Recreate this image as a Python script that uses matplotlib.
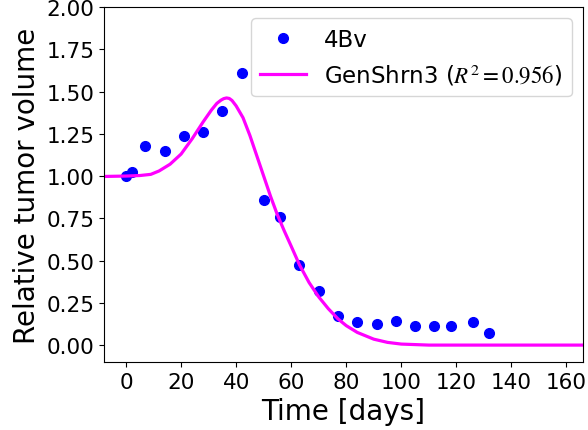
import numpy as np
import matplotlib
matplotlib.use("Agg")
import matplotlib.pyplot as plt

plt.rcParams['mathtext.fontset'] = 'stix'

# measured data (4Bv)
days = [0, 2, 7, 14, 21, 28, 35, 42, 50, 56, 63, 70, 77, 84, 91, 98, 105, 112, 118, 126, 132]
volume = [1.00, 1.025, 1.18, 1.15, 1.234, 1.258, 1.385, 1.61, 0.861, 0.758, 0.476, 0.322,
          0.172, 0.138, 0.123, 0.142, 0.111, 0.114, 0.114, 0.138, 0.071]

# fitted model curve
fit_days = [-10, 0, 5, 9, 12, 16, 20, 24, 28, 31, 33, 34.5, 35.5, 36.5, 37.5, 38.5, 40, 42.5,
            45, 47.5, 50, 52.5, 55, 57.5, 60, 63, 66.5, 70, 73.5, 77, 80, 84, 90, 95, 100,
            110, 170]
fit_volume = [0.997, 1.0, 1.003, 1.01, 1.03, 1.07, 1.13, 1.22, 1.32, 1.39, 1.43, 1.449, 1.458,
              1.462, 1.459, 1.447, 1.415, 1.345, 1.24, 1.12, 1.0, 0.88, 0.77, 0.675, 0.585,
              0.475, 0.37, 0.285, 0.215, 0.155, 0.115, 0.075, 0.035, 0.016, 0.006, 0.0, 0.0]

fig = plt.figure(figsize=(5.88, 4.31), dpi=100)
ax = fig.add_axes([104 / 588, 1 - 363 / 431, 479 / 588, 355 / 431])

ax.plot(days, volume, 'o', color='blue', markersize=7, label='4Bv')
ax.plot(fit_days, fit_volume, '-', color='magenta', linewidth=2.3,
        label=r'GenShrn3 ($R^2=0.956$)')

ax.set_xlim(-8, 166)
ax.set_ylim(-0.1, 2.0)
ax.set_xticks(np.arange(0, 161, 20))
ax.set_yticks(np.arange(0, 2.01, 0.25))
ax.tick_params(labelsize=15.5)
ax.set_xlabel('Time [days]', fontsize=20)
ax.set_ylabel('Relative tumor volume', fontsize=20)
ax.legend(loc='upper right', fontsize=16.5)

fig.savefig('out.png', dpi=100)
